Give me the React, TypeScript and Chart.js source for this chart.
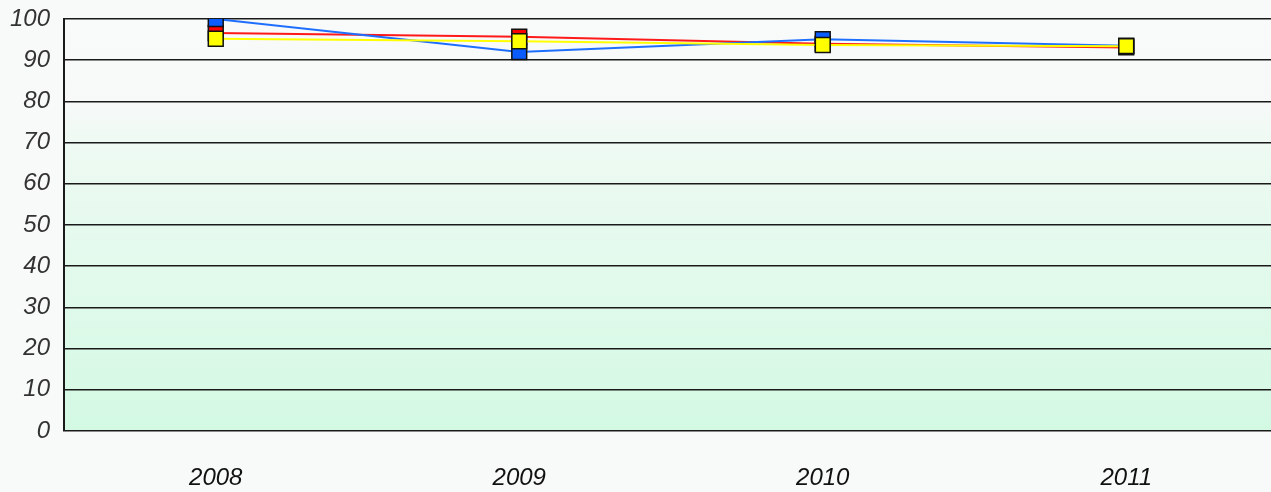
import React, { useEffect, useRef } from "react";
import { Chart, registerables } from "chart.js";

Chart.register(...registerables);

const years = ["2008", "2009", "2010", "2011"];
const blueValues = [100, 92.0, 95.1, 93.5];
const redValues = [96.6, 95.7, 94.0, 93.1];
const yellowValues = [95.2, 94.6, 93.7, 93.4];
const yMin = 0;
const yMax = 100;
const yStep = 10;

const bgPlugin = {
  id: "bgPlugin",
  beforeDraw(chart: any) {
    const { ctx, chartArea, width, height } = chart;
    ctx.save();
    ctx.fillStyle = "#f8f9f9";
    ctx.fillRect(0, 0, width, height);
    const g = ctx.createLinearGradient(0, chartArea.top, 0, chartArea.bottom);
    g.addColorStop(0, "#f9fafa");
    g.addColorStop(0.2, "#f7f9f8");
    g.addColorStop(0.3, "#eefaf3");
    g.addColorStop(1, "#d3f9e3");
    ctx.fillStyle = g;
    ctx.fillRect(chartArea.left, chartArea.top, width - chartArea.left, chartArea.bottom - chartArea.top);
    ctx.restore();
  },
};

const tickFont = { family: "Liberation Sans, Arial, sans-serif", size: 24, style: "italic" as const };

export default function App() {
  const ref = useRef<HTMLCanvasElement | null>(null);

  useEffect(() => {
    if (!ref.current) return;
    const chart = new Chart(ref.current, {
      type: "line",
      data: {
        labels: years,
        datasets: [
          {
            label: "Yellow",
            data: yellowValues,
            borderColor: "#ffff00",
            backgroundColor: "#ffff00",
            borderWidth: 2,
            pointStyle: "rect",
            pointRadius: 10.5,
            pointBorderColor: "#111111",
            pointBorderWidth: 1.5,
            pointBackgroundColor: "#ffff00",
            tension: 0,
          },
          {
            label: "Blue",
            data: blueValues,
            borderColor: "#1f6fff",
            backgroundColor: "#0a5cff",
            borderWidth: 2,
            pointStyle: "rect",
            pointRadius: 10.5,
            pointBorderColor: "#111111",
            pointBorderWidth: 1.5,
            pointBackgroundColor: "#0a5cff",
            tension: 0,
          },
          {
            label: "Red",
            data: redValues,
            borderColor: "#ff1a1a",
            backgroundColor: "#ff0000",
            borderWidth: 2,
            pointStyle: "rect",
            pointRadius: 10.5,
            pointBorderColor: "#111111",
            pointBorderWidth: 1.5,
            pointBackgroundColor: "#ff0000",
            tension: 0,
          },
        ],
      },
      options: {
        responsive: false,
        animation: false,
        devicePixelRatio: 1,
        layout: { padding: { top: 19, right: 0, left: 0, bottom: 0 } },
        plugins: {
          legend: { display: false },
          tooltip: { enabled: false },
        },
        scales: {
          x: {
            offset: true,
            grid: { display: false, drawTicks: false },
            border: { display: false },
            ticks: {
              color: "#111111",
              padding: 33,
              font: tickFont,
            },
            afterFit: (scale: any) => {
              scale.height = 61;
            },
          },
          y: {
            min: yMin,
            max: yMax,
            grid: { color: "#1a1a1a", lineWidth: 1.6, drawTicks: false },
            border: { display: true, color: "#1a1a1a", width: 2 },
            ticks: {
              stepSize: yStep,
              color: "#333333",
              padding: 14,
              font: tickFont,
            },
            afterFit: (scale: any) => {
              scale.width = 64;
              scale.paddingTop = 0;
              scale.paddingBottom = 0;
            },
          },
        },
      },
      plugins: [bgPlugin],
    });
    return () => chart.destroy();
  }, []);

  return (
    <div
      style={{
        position: "fixed",
        left: 0,
        top: 0,
        width: 1271,
        height: 492,
        overflow: "hidden",
        background: "#f8f9f9",
      }}
    >
      <canvas ref={ref} width={1290} height={492} style={{ display: "block" }} />
    </div>
  );
}
